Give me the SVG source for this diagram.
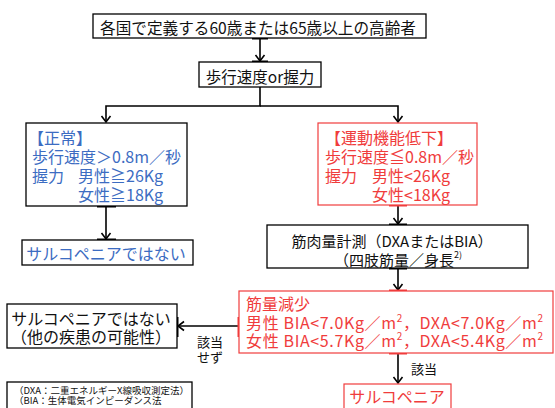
<svg xmlns="http://www.w3.org/2000/svg" width="555" height="408" viewBox="0 0 555 408">
<defs>
<style>
text{font-family:"Noto Sans CJK JP","Noto Sans",sans-serif;dominant-baseline:central}
.box{fill:#fff;stroke:#000;stroke-width:1.3}
.rbox{fill:#fff;stroke:#f03c3c;stroke-width:1.2}
.k{fill:#111}
.b{fill:#3c6cc2}
.r{fill:#f03c3c}
.ln{fill:none;stroke:#000;stroke-width:1.6}
.tk{stroke:#000;stroke-width:3}
.rtk{stroke:#f03c3c;stroke-width:3}
</style>
<marker id="ah" markerUnits="userSpaceOnUse" markerWidth="12" markerHeight="12" viewBox="-8 -6 10 12" refX="0" refY="0" orient="auto">
<path d="M-6,-4.5 L0,0 L-6,4.5" fill="none" stroke="#000" stroke-width="1.6"/>
</marker>
</defs>

<g id="connectors">
<path class="ln" d="M260,38 V61" marker-end="url(#ah)"/>
<path class="ln" d="M260,87 V106 H106 V122" marker-end="url(#ah)"/>
<path class="ln" d="M260,106 H398 V122" marker-end="url(#ah)"/>
<path class="ln" d="M106,206 V239" marker-end="url(#ah)"/>
<path class="ln" d="M398,205 V224" marker-end="url(#ah)"/>
<path class="ln" d="M398,268 V290" marker-end="url(#ah)"/>
<path class="ln" d="M239,326 H178" marker-end="url(#ah)"/>
<path class="ln" d="M398,353 V383" marker-end="url(#ah)"/>
<line class="tk" x1="252" y1="38" x2="268" y2="38"/>
<line class="tk" x1="252" y1="62" x2="268" y2="62"/>
<line class="tk" x1="97" y1="206" x2="116" y2="206"/>
<line class="tk" x1="97" y1="240" x2="116" y2="240"/>
<line class="rtk" x1="389" y1="205" x2="407" y2="205"/>
<line class="tk" x1="389" y1="225" x2="407" y2="225"/>
<line class="tk" x1="389" y1="268" x2="407" y2="268"/>
<line class="rtk" x1="389" y1="291" x2="407" y2="291"/>
<line class="rtk" x1="389" y1="353" x2="407" y2="353"/>
<line class="rtk" x1="239" y1="317" x2="239" y2="337"/>
<line class="tk" x1="177" y1="317" x2="177" y2="337"/>
<text class="k" x="424" y="368" font-size="13" text-anchor="middle">該当</text>
<text class="k" x="210" y="341" font-size="13" text-anchor="middle">該当</text>
<text class="k" x="210" y="356" font-size="13" text-anchor="middle">せず</text>
</g>

<g id="n-top">
<rect class="box" x="93" y="14" width="333" height="24"/>
<text class="k" x="100" y="27" font-size="15.5" textLength="316" lengthAdjust="spacingAndGlyphs">各国で定義する60歳または65歳以上の高齢者</text>
</g>

<g id="n-gait">
<rect class="box" x="199" y="62" width="122" height="25"/>
<text class="k" x="260" y="76" font-size="15.5" text-anchor="middle">歩行速度or握力</text>
</g>

<g id="n-normal">
<rect class="box" x="26" y="123" width="161" height="83"/>
<text class="b" x="28" y="137" font-size="16">【正常】</text>
<text class="b" x="32" y="156" font-size="16">歩行速度＞0.8m／秒</text>
<text class="b" x="32" y="175" font-size="16">握力</text>
<text class="b" x="78" y="175" font-size="16">男性≧26Kg</text>
<text class="b" x="78" y="194" font-size="16">女性≧18Kg</text>
</g>

<g id="n-not-sarco">
<rect class="box" x="22" y="240" width="171" height="25"/>
<text class="b" x="106" y="253" font-size="16" text-anchor="middle">サルコペニアではない</text>
</g>

<g id="n-low">
<rect class="rbox" x="318" y="123" width="159" height="82"/>
<text class="r" x="325" y="137" font-size="16">【運動機能低下】</text>
<text class="r" x="325" y="156" font-size="16">歩行速度≦0.8m／秒</text>
<text class="r" x="325" y="175" font-size="16">握力</text>
<text class="r" x="372" y="175" font-size="16">男性&lt;26Kg</text>
<text class="r" x="372" y="194" font-size="16">女性&lt;18Kg</text>
</g>

<g id="n-measure">
<rect class="box" x="267" y="225" width="261" height="43"/>
<text class="k" x="392" y="240" font-size="15" text-anchor="middle">筋肉量計測（DXAまたはBIA）</text>
<text class="k" x="398" y="259" font-size="15" text-anchor="middle">（四肢筋量／身長<tspan font-size="9" dy="-5">2)</tspan></text>
</g>

<g id="n-reduce">
<rect class="rbox" x="239" y="291" width="314" height="62"/>
<text class="r" x="246" y="303" font-size="16">筋量減少</text>
<text class="r" x="246" y="322" font-size="16" textLength="297" lengthAdjust="spacing">男性 BIA&lt;7.0Kg／m<tspan font-size="10" dy="-5">2</tspan><tspan dy="5">，DXA&lt;7.0Kg／m</tspan><tspan font-size="10" dy="-5">2</tspan></text>
<text class="r" x="246" y="340" font-size="16" textLength="297" lengthAdjust="spacing">女性 BIA&lt;5.7Kg／m<tspan font-size="10" dy="-5">2</tspan><tspan dy="5">，DXA&lt;5.4Kg／m</tspan><tspan font-size="10" dy="-5">2</tspan></text>
</g>

<g id="n-other">
<rect class="box" x="7" y="304" width="170" height="44"/>
<text class="k" x="91" y="318" font-size="16" text-anchor="middle">サルコペニアではない</text>
<text class="k" x="91" y="336" font-size="16" text-anchor="middle">（他の疾患の可能性）</text>
</g>

<g id="n-sarco">
<rect class="rbox" x="344" y="384" width="107" height="30"/>
<text class="r" x="397" y="396" font-size="16" text-anchor="middle">サルコペニア</text>
</g>

<g id="n-note">
<rect class="box" x="7" y="382" width="185" height="30" stroke-width="1"/>
<text class="k" x="14" y="390" font-size="9.5">（DXA：二重エネルギーX線吸収測定法）</text>
<text class="k" x="14" y="400" font-size="9.5">（BIA：生体電気インピーダンス法</text>
</g>
</svg>
